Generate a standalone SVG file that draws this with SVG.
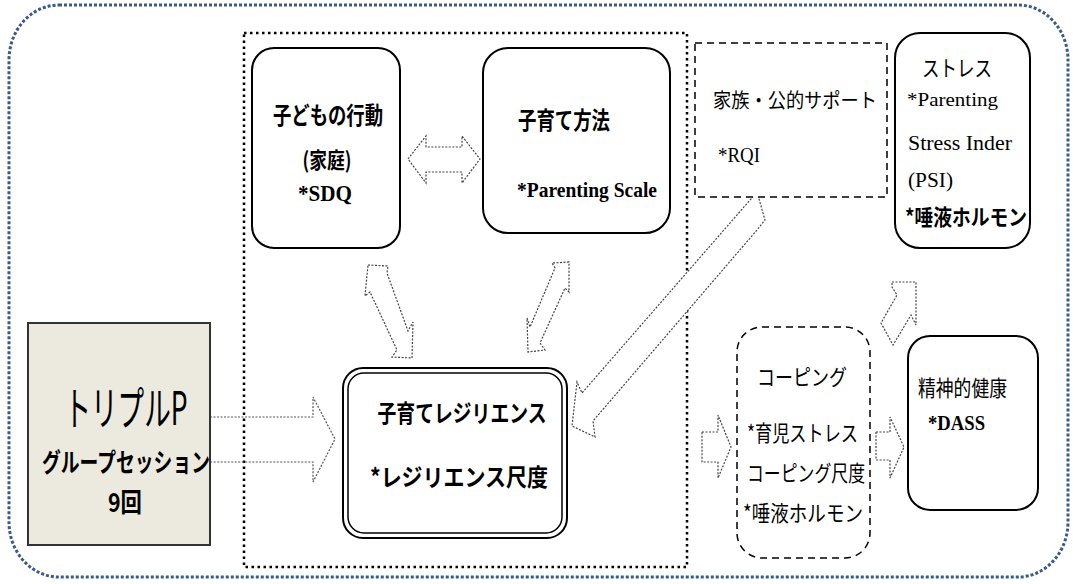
<svg xmlns="http://www.w3.org/2000/svg" width="1075" height="584" viewBox="0 0 1075 584">
<style>
.jp{font-family:"Noto Sans CJK JP","Noto Sans",sans-serif;fill:#000}
.b{font-weight:bold}
.lat{font-family:"Liberation Serif","Noto Sans CJK JP",serif;fill:#000}
.box{fill:#fff;stroke:#000;stroke-width:2}
.arr{fill:#fff;stroke:#444;stroke-width:1.2;stroke-dasharray:2 1.5}
</style>
<rect width="1075" height="584" fill="#fff"/>
<!-- outer boundary -->
<rect x="9" y="5" width="1059" height="572" rx="50" ry="55" fill="none" stroke="#3a5a8c" stroke-width="3" stroke-dasharray="3 2"/>
<!-- inner dotted frame -->
<rect x="244" y="33" width="443" height="534" fill="none" stroke="#000" stroke-width="2.5" stroke-dasharray="2.5 3.5"/>

<g id="connectors">
  <path class="arr" d="M408,159 L426,136 L426,147 L462,147 L462,136 L480,159 L462,183 L462,172 L426,172 L426,183 Z"/>
  <path class="arr" d="M368,265 L388,266 L387,273 L408,331 L413,322 L412,358 L392,357 L397,350 L370,292 L365,296 Z"/>
  <path class="arr" d="M569,262 L552,263 L555,268 L530,327 L527,318 L528,352 L545,350 L540,343 L565,288 L569,292 Z"/>
  <path class="arr" d="M757,192 L765,220 L757,230 L593,421 L595,437 L572,426 L577,382 L582,393 Z"/>
  <path fill="none" stroke="#555" stroke-width="1.2" stroke-dasharray="2 1.5" d="M210,417 L313,417 L313,397 L335,439 L313,482 L313,462 L210,462"/>
  <path class="arr" d="M702,432 L718,432 L718,415 L731,447 L718,478 L718,462 L702,462 Z"/>
  <path class="arr" d="M876,432 L890,432 L890,417 L904,447 L890,478 L890,460 L876,460 Z"/>
  <path class="arr" d="M892,282 L916,282 L916,325 L911,315 L893,345 L881,323 L897,295 L892,287 Z"/>
</g>

<g id="node-child">
  <rect class="box" x="252" y="48" width="148" height="200" rx="22"/>
  <text class="jp b" x="328" y="124" font-size="24" text-anchor="middle" textLength="110" lengthAdjust="spacingAndGlyphs">子どもの行動</text>
  <text class="jp b" x="327" y="168" font-size="22" text-anchor="middle" textLength="49" lengthAdjust="spacingAndGlyphs">(家庭)</text>
  <text class="lat b" x="325" y="201" font-size="24" text-anchor="middle" textLength="54" lengthAdjust="spacingAndGlyphs">*SDQ</text>
</g>

<g id="node-parenting">
  <rect class="box" x="483" y="48" width="187" height="185" rx="25" stroke-width="2.5"/>
  <text class="jp b" x="564" y="129" font-size="24" text-anchor="middle" textLength="92" lengthAdjust="spacingAndGlyphs">子育て方法</text>
  <text class="lat b" x="587" y="197" font-size="22" text-anchor="middle" textLength="140" lengthAdjust="spacingAndGlyphs">*Parenting Scale</text>
</g>

<g id="node-support">
  <rect x="695" y="43" width="192" height="154" fill="#fff" stroke="#000" stroke-width="1.5" stroke-dasharray="7 5"/>
  <text class="jp" x="713" y="108" font-size="20" textLength="164" lengthAdjust="spacingAndGlyphs">家族・公的サポート</text>
  <text class="lat" x="718" y="162" font-size="20" textLength="42" lengthAdjust="spacingAndGlyphs">*RQI</text>
</g>

<g id="node-stress">
  <rect class="box" x="895" y="33" width="135" height="215" rx="25" stroke-width="1.6"/>
  <text class="jp" x="957" y="76" font-size="22" text-anchor="middle" textLength="70" lengthAdjust="spacingAndGlyphs">ストレス</text>
  <text class="lat" x="907" y="106" font-size="19" textLength="91" lengthAdjust="spacingAndGlyphs">*Parenting</text>
  <text class="lat" x="908" y="150" font-size="20" textLength="104" lengthAdjust="spacingAndGlyphs">Stress Inder</text>
  <text class="lat" x="908" y="187" font-size="20" textLength="45" lengthAdjust="spacingAndGlyphs">(PSI)</text>
  <text class="jp b" x="905" y="225" font-size="22" textLength="122" lengthAdjust="spacingAndGlyphs">*唾液ホルモン</text>
</g>

<g id="node-triplep">
  <rect x="28" y="323" width="182" height="222" fill="#ece9de" stroke="#333" stroke-width="2"/>
  <text class="jp" x="126" y="425" font-size="46" text-anchor="middle" textLength="123" lengthAdjust="spacingAndGlyphs">トリプルP</text>
  <text class="jp b" x="126" y="472" font-size="26" text-anchor="middle" textLength="168" lengthAdjust="spacingAndGlyphs">グループセッション</text>
  <text class="jp b" x="125" y="512" font-size="26" text-anchor="middle" textLength="34" lengthAdjust="spacingAndGlyphs">9回</text>
</g>

<g id="node-resilience">
  <rect x="343" y="368" width="224" height="170" rx="20" fill="#fff" stroke="#000" stroke-width="2"/>
  <rect x="348" y="373" width="214" height="160" rx="16" fill="none" stroke="#000" stroke-width="1.5"/>
  <text class="jp b" x="462" y="422" font-size="24" text-anchor="middle" textLength="169" lengthAdjust="spacingAndGlyphs">子育てレジリエンス</text>
  <text class="jp b" x="459" y="486" font-size="24" text-anchor="middle" textLength="178" lengthAdjust="spacingAndGlyphs">*レジリエンス尺度</text>
</g>

<g id="node-coping">
  <rect x="737" y="327" width="133" height="231" rx="25" fill="#fff" stroke="#000" stroke-width="1.5" stroke-dasharray="7 5"/>
  <text class="jp" x="802" y="385" font-size="22" text-anchor="middle" textLength="90" lengthAdjust="spacingAndGlyphs">コーピング</text>
  <text class="jp" x="747" y="441" font-size="22" textLength="111" lengthAdjust="spacingAndGlyphs">*育児ストレス</text>
  <text class="jp" x="747" y="481" font-size="22" textLength="118" lengthAdjust="spacingAndGlyphs">コーピング尺度</text>
  <text class="jp" x="743" y="521" font-size="22" textLength="120" lengthAdjust="spacingAndGlyphs">*唾液ホルモン</text>
</g>

<g id="node-mental">
  <rect class="box" x="908" y="336" width="130" height="174" rx="22"/>
  <text class="jp" x="918" y="396" font-size="22" textLength="89" lengthAdjust="spacingAndGlyphs">精神的健康</text>
  <text class="lat b" x="928" y="430" font-size="22" textLength="57" lengthAdjust="spacingAndGlyphs">*DASS</text>
</g>
</svg>
